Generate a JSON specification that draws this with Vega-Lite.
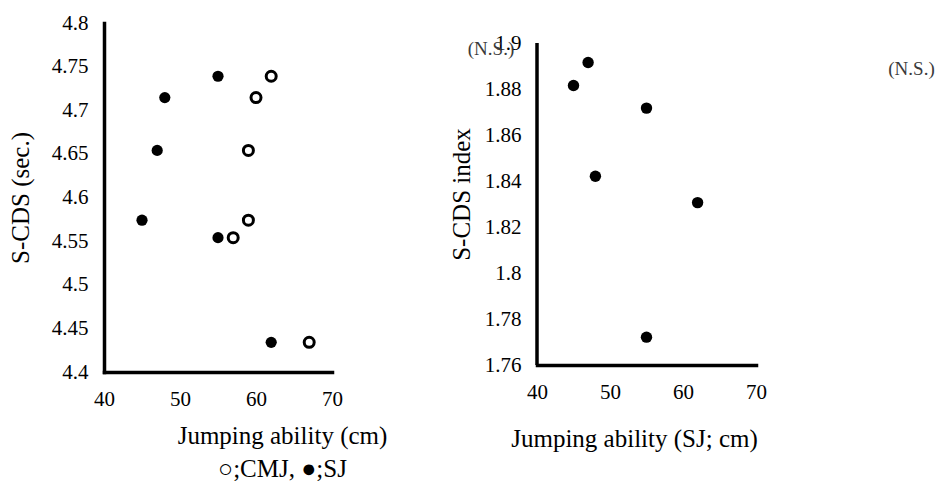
{
  "$schema": "https://vega.github.io/schema/vega-lite/v6.json",
  "padding": {"left": 8, "top": 12, "right": 0, "bottom": 0},
  "bounds": "flush",
  "spacing": 205,
  "config": {
    "font": "Liberation Serif",
    "view": {"stroke": null},
    "axis": {
      "grid": false,
      "ticks": false,
      "tickSize": 0,
      "labelFlush": false,
      "domainColor": "#000000",
      "domainWidth": 3.5,
      "domainCap": "square",
      "labelColor": "#000000",
      "labelFont": "Liberation Serif",
      "labelFontSize": 21,
      "labelPadding": 16,
      "titleFont": "Liberation Serif",
      "titleFontSize": 25,
      "titleFontWeight": "normal",
      "titleColor": "#000000"
    }
  },
  "datasets": {
    "cds": [
      {"jump": 55, "scds": 4.739, "test": "SJ"},
      {"jump": 48, "scds": 4.7145, "test": "SJ"},
      {"jump": 47, "scds": 4.654, "test": "SJ"},
      {"jump": 45, "scds": 4.574, "test": "SJ"},
      {"jump": 55, "scds": 4.554, "test": "SJ"},
      {"jump": 62, "scds": 4.434, "test": "SJ"},
      {"jump": 62, "scds": 4.739, "test": "CMJ"},
      {"jump": 60, "scds": 4.7145, "test": "CMJ"},
      {"jump": 59, "scds": 4.654, "test": "CMJ"},
      {"jump": 59, "scds": 4.574, "test": "CMJ"},
      {"jump": 57, "scds": 4.554, "test": "CMJ"},
      {"jump": 67, "scds": 4.434, "test": "CMJ"}
    ],
    "index": [
      {"jump": 47, "index": 1.8915},
      {"jump": 45, "index": 1.8815},
      {"jump": 55, "index": 1.8717},
      {"jump": 48, "index": 1.8421},
      {"jump": 62, "index": 1.8306},
      {"jump": 55, "index": 1.7721}
    ]
  },
  "hconcat": [
    {
      "width": 228,
      "height": 349,
      "data": {"name": "cds"},
      "encoding": {
        "x": {
          "field": "jump",
          "type": "quantitative",
          "scale": {"domain": [40, 70], "nice": false, "zero": false},
          "axis": {
            "values": [40, 50, 60, 70],
            "title": ["Jumping ability (cm)", "○;CMJ, ●;SJ"],
            "titleX": 178,
            "titlePadding": 14,
            "titleLineHeight": 33
          }
        },
        "y": {
          "field": "scds",
          "type": "quantitative",
          "scale": {"domain": [4.4, 4.8], "nice": false, "zero": false},
          "axis": {
            "values": [4.4, 4.45, 4.5, 4.55, 4.6, 4.65, 4.7, 4.75, 4.8],
            "format": "~g",
            "title": "S-CDS (sec.)",
            "titlePadding": 18
          }
        }
      },
      "layer": [
        {
          "transform": [{"filter": "datum.test === 'SJ'"}],
          "mark": {"type": "point", "filled": true, "color": "#000000", "opacity": 1, "size": 125}
        },
        {
          "transform": [{"filter": "datum.test === 'CMJ'"}],
          "mark": {"type": "point", "filled": false, "color": "#000000", "opacity": 1, "strokeWidth": 3, "size": 100}
        }
      ]
    },
    {
      "width": 219,
      "height": 342,
      "layer": [
        {
          "data": {"name": "index"},
          "mark": {"type": "point", "filled": true, "color": "#000000", "opacity": 1, "size": 130},
          "encoding": {
            "x": {
              "field": "jump",
              "type": "quantitative",
              "scale": {"domain": [40, 70], "nice": false, "zero": false},
              "axis": {
                "values": [40, 50, 60, 70],
                "title": "Jumping ability (SJ; cm)",
                "titleX": 97,
                "titlePadding": 24
              }
            },
            "y": {
              "field": "index",
              "type": "quantitative",
              "scale": {"domain": [1.76, 1.9087], "nice": false, "zero": false},
              "axis": {
                "values": [1.76, 1.78, 1.8, 1.82, 1.84, 1.86, 1.88, 1.9],
                "format": "~g",
                "title": "S-CDS index",
                "titlePadding": 10,
                "domain": false
              }
            }
          }
        },
        {
          "data": {"values": [{}]},
          "mark": {"type": "rule", "color": "#000000", "strokeWidth": 3.5},
          "encoding": {
            "x": {"datum": 40, "type": "quantitative"},
            "y": {"datum": 1.76, "type": "quantitative"},
            "y2": {"datum": 1.9}
          }
        },
        {
          "data": {"values": [{}]},
          "mark": {"type": "text", "text": "(N.S.)", "fontSize": 19, "color": "#3a3a3a"},
          "encoding": {
            "x": {"datum": 33.7, "type": "quantitative"},
            "y": {"datum": 1.8975, "type": "quantitative"}
          }
        },
        {
          "data": {"values": [{}]},
          "mark": {"type": "text", "text": "(N.S.)", "fontSize": 19, "color": "#3a3a3a"},
          "encoding": {
            "x": {"datum": 91.3, "type": "quantitative"},
            "y": {"datum": 1.8887, "type": "quantitative"}
          }
        }
      ]
    }
  ]
}
